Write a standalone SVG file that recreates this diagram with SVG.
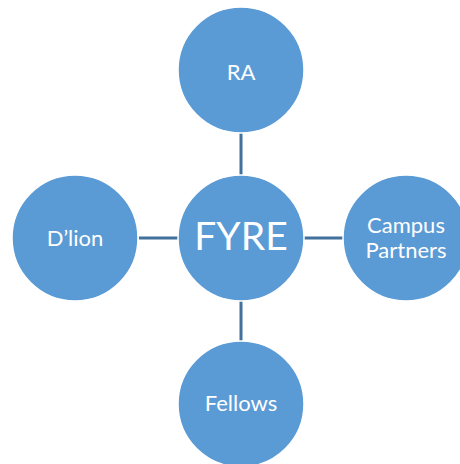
<svg xmlns="http://www.w3.org/2000/svg" width="460" height="464" viewBox="0 0 460 464">
<style>
.node{fill:#5B9BD5;stroke:#ffffff;stroke-width:1.5}
.lbl{fill:#ffffff;font-family:Lato,"Liberation Sans",sans-serif;font-size:22px;text-anchor:middle}
.big{font-size:39px}
.conn{stroke:#41719C;stroke-width:3;fill:none}
</style>
<rect width="460" height="464" fill="#ffffff"/>
<g id="connectors">
<line class="conn" x1="241" y1="133" x2="241" y2="176"/>
<line class="conn" x1="139" y1="238" x2="178" y2="238"/>
<line class="conn" x1="304" y1="238" x2="343" y2="238"/>
<line class="conn" x1="241" y1="300" x2="241" y2="342"/>
</g>
<g id="FYRE">
<circle class="node" cx="241" cy="238" r="63"/>
<text class="lbl big" x="241" y="250">FYRE</text>
</g>
<g id="RA">
<circle class="node" cx="241" cy="70" r="63"/>
<text class="lbl" x="241" y="80">RA</text>
</g>
<g id="Dlion">
<circle class="node" cx="75" cy="238" r="63"/>
<text class="lbl" x="75" y="246">D’lion</text>
</g>
<g id="CampusPartners">
<circle class="node" cx="406" cy="238" r="63"/>
<text class="lbl" x="406" y="233">Campus</text>
<text class="lbl" x="406" y="258">Partners</text>
</g>
<g id="Fellows">
<circle class="node" cx="241" cy="404" r="63"/>
<text class="lbl" x="241" y="411">Fellows</text>
</g>
</svg>
